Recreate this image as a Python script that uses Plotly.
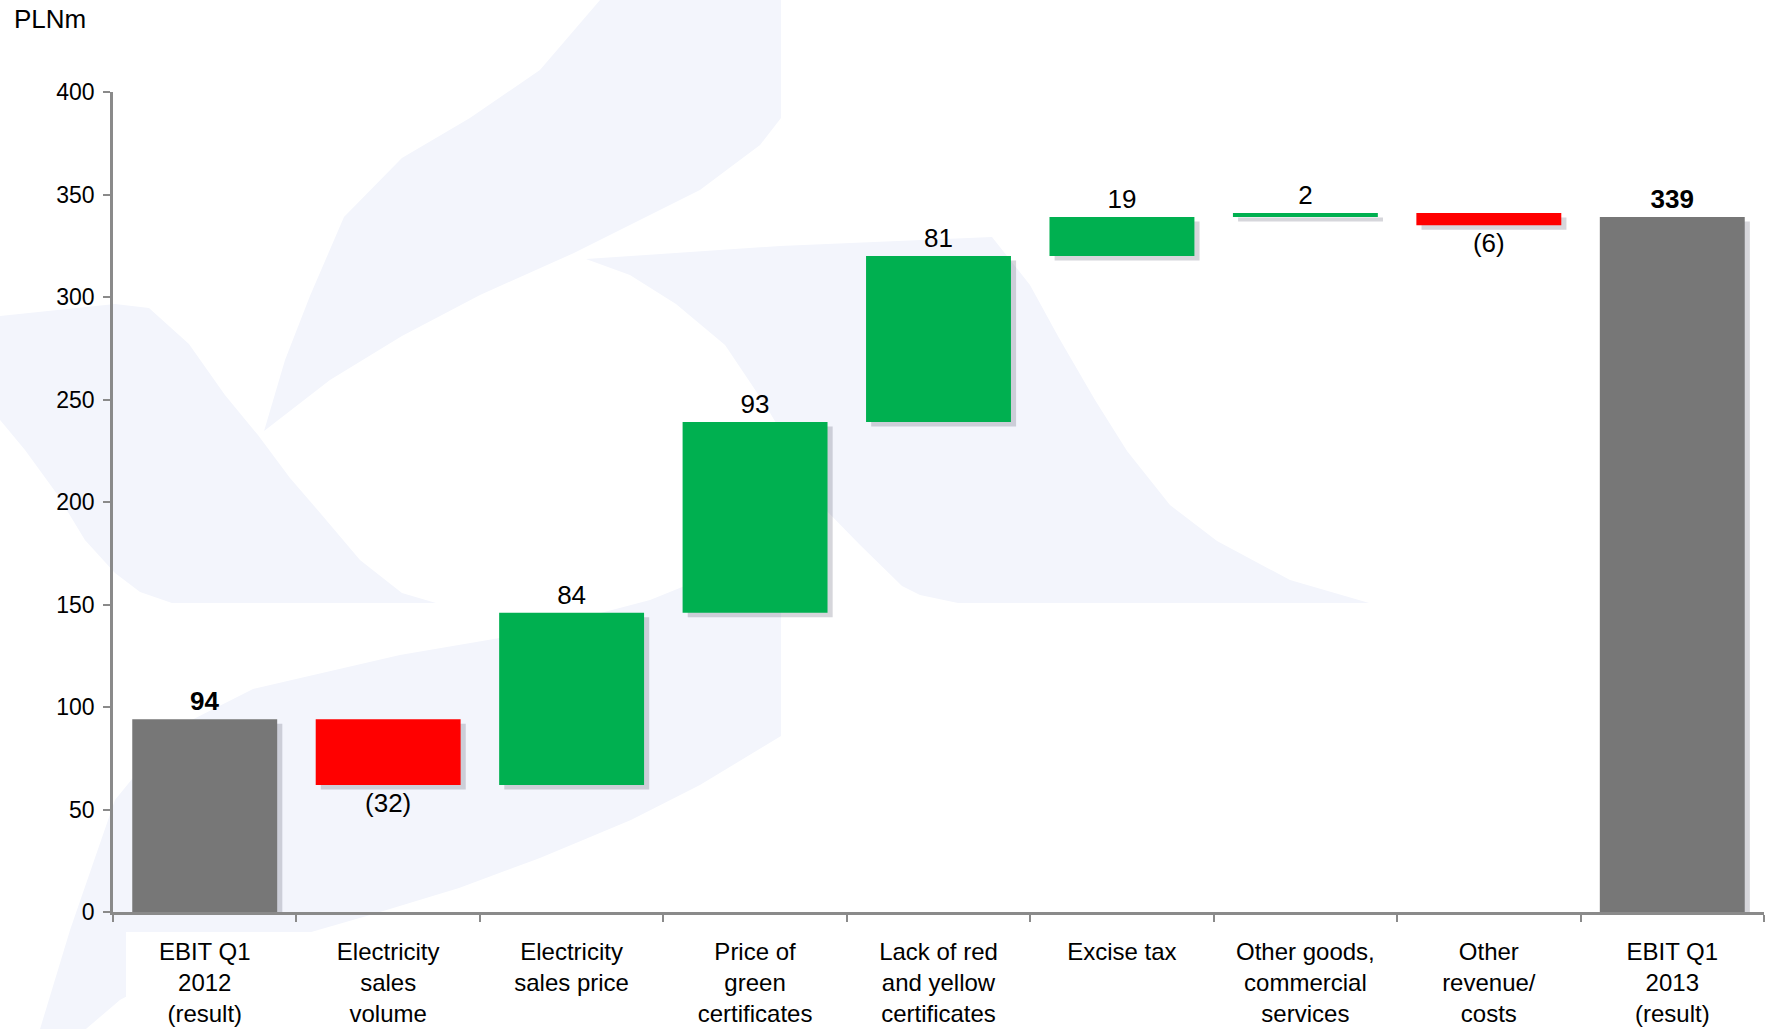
import plotly.graph_objects as go

# --- data -------------------------------------------------------------
categories = [
    "EBIT Q1<br>2012<br>(result)",
    "Electricity<br>sales<br>volume",
    "Electricity<br>sales price",
    "Price of<br>green<br>certificates",
    "Lack of red<br>and yellow<br>certificates",
    "Excise tax",
    "Other goods,<br>commercial<br>services",
    "Other<br>revenue/<br>costs",
    "EBIT Q1<br>2013<br>(result)",
]
values = [94, -32, 84, 93, 81, 19, 2, -6, 339]
measures = ["absolute", "relative", "relative", "relative", "relative",
            "relative", "relative", "relative", "absolute"]
y_ticks = [0, 50, 100, 150, 200, 250, 300, 350, 400]
unit_label = "PLNm"

# --- styling ----------------------------------------------------------
W, H = 1767, 1029
M_L, M_R, M_T, M_B = 113, 3, 92, 117
FONT = "Liberation Sans, Arial, sans-serif"
GREEN, RED, GREY = "#00B050", "#FF0000", "#777777"
AXIS = "#8a8a8a"
BAR_W = 0.79
TINT = "#F3F5FC"

plot_w = W - M_L - M_R
plot_h = H - M_T - M_B


def px(x):
    return (x - M_L) / plot_w


def py(y):
    return (H - M_B - y) / plot_h


def label(v, m):
    txt = f"({abs(v)})" if v < 0 else f"{v}"
    return f"<b>{txt}</b>" if m == "absolute" else txt


texts = [label(v, m) for v, m in zip(values, measures)]

fig = go.Figure()

# soft drop shadow under every bar
fig.add_trace(go.Waterfall(
    x=categories, y=values, measure=measures,
    base=-2.2, width=BAR_W, offset=-BAR_W / 2 + 0.028,
    increasing=dict(marker=dict(color="rgba(70,70,90,0.22)")),
    decreasing=dict(marker=dict(color="rgba(70,70,90,0.22)")),
    totals=dict(marker=dict(color="rgba(70,70,90,0.22)")),
    connector=dict(visible=False), hoverinfo="skip", showlegend=False,
))

fig.add_trace(go.Waterfall(
    x=categories, y=values, measure=measures,
    width=BAR_W, offset=-BAR_W / 2,
    text=texts, textposition="outside", constraintext="none",
    textfont=dict(family=FONT, size=26, color="#000000"),
    cliponaxis=False,
    increasing=dict(marker=dict(color=GREEN)),
    decreasing=dict(marker=dict(color=RED)),
    totals=dict(marker=dict(color=GREY)),
    connector=dict(visible=False), showlegend=False,
))

# faint logo watermark behind the chart
def path(points):
    d = "M " + " L ".join(f"{px(x):.4f},{py(y):.4f}" for x, y in points) + " Z"
    return dict(type="path", xref="paper", yref="paper", path=d,
                fillcolor=TINT, line=dict(width=0), layer="below")


shapes = [
    path([(600, 0), (781, 0), (781, 118), (760, 145), (700, 190), (574, 253),
          (480, 295), (402, 336), (330, 380), (264, 431), (285, 360),
          (310, 296), (344, 217), (402, 158), (470, 118), (540, 70)]),
    path([(0, 316), (115, 304), (149, 308), (189, 344), (225, 395),
          (258, 435), (290, 478), (321, 514), (360, 560), (402, 593),
          (436, 603), (172, 603), (140, 592), (115, 573), (85, 540),
          (57, 494), (25, 450), (0, 420)]),
    path([(586, 259), (780, 246), (992, 237), (1030, 285), (1059, 338),
          (1095, 400), (1127, 451), (1170, 505), (1217, 541), (1290, 580),
          (1369, 603), (958, 603), (920, 595), (902, 586), (860, 545),
          (823, 507), (795, 455), (766, 406), (725, 345), (676, 304),
          (630, 275)]),
    path([(781, 547), (781, 736), (700, 785), (631, 820), (540, 858),
          (459, 888), (370, 915), (287, 939), (220, 958), (172, 972),
          (120, 1000), (86, 1029), (40, 1029), (70, 930), (115, 800),
          (172, 730), (253, 689), (400, 655), (517, 635), (650, 600)]),
    dict(type="rect", xref="paper", yref="paper",
         x0=px(126), x1=px(W + 5), y0=py(H + 5), y1=py(932),
         fillcolor="#FFFFFF", line=dict(width=0), layer="below"),
]

fig.update_layout(
    width=W, height=H,
    margin=dict(l=M_L, r=M_R, t=M_T, b=M_B),
    paper_bgcolor="#FFFFFF", plot_bgcolor="rgba(0,0,0,0)",
    waterfallmode="overlay",
    font=dict(family=FONT, color="#000000"),
    shapes=shapes,
    annotations=[dict(
        text=unit_label, xref="paper", yref="paper",
        x=px(12), y=py(2), xanchor="left", yanchor="top",
        showarrow=False, font=dict(family=FONT, size=26, color="#000000"),
    )],
)

fig.update_xaxes(
    showgrid=False, showline=True, linecolor=AXIS, linewidth=2.5,
    ticks="outside", ticklen=7, tickwidth=2, tickcolor=AXIS,
    tickson="boundaries", ticklabelstandoff=16,
    tickfont=dict(family=FONT, size=24, color="#000000"),
    zeroline=False,
)
fig.update_yaxes(
    range=[0, 400], tickvals=y_ticks, showgrid=False,
    showline=True, linecolor=AXIS, linewidth=2.5,
    ticks="outside", ticklen=7, tickwidth=2, tickcolor=AXIS,
    tickfont=dict(family=FONT, size=23, color="#000000"),
    ticklabelstandoff=4, zeroline=False,
)

fig.write_html("out.html")
